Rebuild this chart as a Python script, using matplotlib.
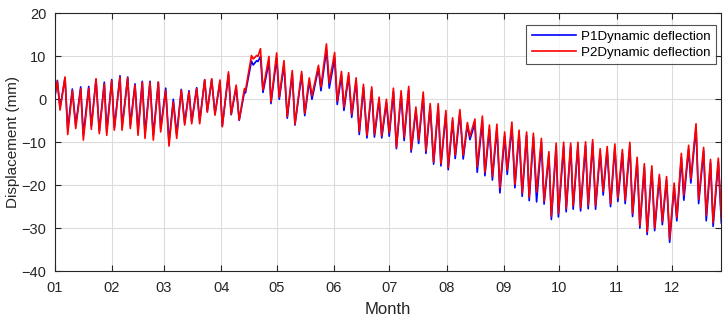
import pandas as pd
import matplotlib
matplotlib.use("Agg")
import matplotlib.pyplot as plt
import matplotlib.dates as mdates

# Turning points of the daily deflection record (days since 1 Jan)
days = [0.00, 1.41, 2.87, 5.57, 7.03, 9.52, 11.36, 14.06, 15.47, 18.39,
        19.79, 22.34, 24.12, 26.82, 28.12, 30.83, 32.23, 35.31, 36.40, 39.48,
        40.88, 43.43, 45.05, 47.37, 48.83, 51.54, 53.32, 56.03, 57.32, 60.03,
        61.81, 64.14, 65.98, 68.46, 70.30, 72.63, 74.09, 76.79, 78.42, 81.12,
        82.53, 84.91, 86.69, 89.39, 90.64, 93.99, 95.45, 98.16, 99.78, 102.64,
        103.18, 106.43, 107.40, 109.24, 109.94, 111.30, 112.65, 115.89, 116.97, 120.06,
        121.46, 124.01, 125.79, 128.49, 129.95, 133.58, 135.25, 137.69, 139.15, 142.66,
        144.01, 146.99, 148.50, 151.42, 152.83, 155.10, 156.45, 158.99, 160.67, 163.05,
        164.73, 167.00, 168.89, 171.49, 172.95, 175.49, 176.90, 179.44, 180.95, 183.22,
        184.85, 187.39, 189.01, 191.50, 192.80, 195.39, 196.85, 199.34, 200.80, 203.12,
        204.96, 207.45, 208.91, 211.61, 212.86, 215.24, 216.64, 219.19, 220.97, 223.24,
        224.59, 227.30, 228.54, 231.35, 232.71, 235.14, 236.76, 239.20, 240.82, 243.41,
        244.77, 247.31, 248.93, 251.20, 252.88, 255.26, 256.66, 258.94, 260.67, 263.26,
        264.72, 267.32, 268.67, 271.27, 272.46, 275.32, 276.67, 279.11, 280.46, 283.05,
        284.46, 287.16, 288.57, 291.00, 292.57, 295.06, 296.68, 298.85, 300.68, 303.01,
        304.63, 307.07, 308.58, 311.12, 312.58, 315.07, 316.53, 318.96, 320.48, 323.02,
        324.54, 327.08, 328.70, 330.97, 332.65, 335.08, 336.54, 338.97, 340.33, 342.92,
        344.11, 346.92, 348.33, 351.03, 352.44, 354.76, 356.17, 358.98, 360.61]

p2 = [0.5, 4.2, -2.5, 5.2, -8.2, 2.1, -6.8, 2.5, -9.5, 2.6,
      -7.0, 4.8, -8.0, 3.6, -8.4, 4.4, -7.2, 5.2, -7.2, 5.0,
      -6.8, 3.3, -8.4, 4.0, -9.1, 4.0, -9.5, 4.0, -7.6, 2.1,
      -10.9, -0.6, -9.1, 2.1, -6.0, 1.7, -5.7, 2.5, -5.7, 4.6,
      -3.0, 4.8, -3.7, 4.5, -6.4, 6.4, -3.5, 3.3, -4.8, 2.5,
      2.0, 10.2, 9.4, 10.2, 10.0, 11.8, 2.2, 10.0, -0.6, 10.8,
      0.5, 9.0, -4.0, 6.7, -5.8, 6.5, -3.3, 5.0, 0.8, 7.9,
      2.9, 12.9, 3.8, 10.9, -0.4, 6.5, -1.8, 6.2, -3.5, 5.0,
      -7.5, 3.5, -8.4, 2.9, -8.2, 0.5, -8.5, 0.0, -7.8, 2.6,
      -11.2, 2.0, -8.8, 3.0, -11.8, -1.8, -9.5, 1.7, -12.0, -1.0,
      -14.6, -1.0, -15.0, -2.6, -15.9, -4.3, -13.0, -2.4, -13.0, -5.4,
      -8.7, -4.6, -15.7, -3.9, -17.0, -6.0, -18.0, -5.8, -20.6, -7.6,
      -16.5, -5.3, -19.8, -7.2, -21.8, -7.6, -22.8, -7.9, -21.6, -9.1,
      -23.7, -12.2, -27.2, -10.2, -26.6, -10.0, -25.4, -10.2, -24.8, -10.0,
      -25.3, -9.9, -24.7, -9.4, -24.8, -11.5, -21.4, -11.0, -24.3, -10.4,
      -23.0, -11.7, -23.5, -10.0, -26.6, -13.5, -29.4, -15.0, -30.9, -15.5,
      -30.0, -17.5, -28.5, -18.0, -32.5, -19.5, -27.5, -12.6, -22.3, -10.7,
      -18.5, -5.7, -23.3, -11.2, -27.0, -14.0, -28.7, -13.7, -27.6]

p1 = [0.5, 4.4, -2.0, 5.0, -7.0, 2.4, -6.0, 2.9, -8.3, 3.0,
      -6.2, 4.6, -7.3, 4.0, -7.5, 4.6, -6.6, 5.5, -6.5, 5.2,
      -6.0, 3.6, -7.3, 4.2, -8.0, 4.2, -8.4, 4.0, -6.8, 2.6,
      -10.0, 0.0, -8.2, 2.3, -5.5, 2.0, -5.2, 2.7, -5.0, 4.5,
      -2.8, 4.6, -3.4, 4.0, -6.2, 5.8, -3.6, 2.8, -4.9, 1.8,
      1.5, 8.9, 8.0, 9.0, 8.8, 10.0, 1.6, 8.7, -1.0, 9.6,
      0.0, 8.0, -4.4, 6.0, -6.0, 5.8, -3.8, 4.2, 0.0, 7.2,
      2.0, 11.5, 2.6, 9.6, -1.2, 5.6, -2.6, 5.4, -4.2, 4.3,
      -8.2, 2.8, -9.0, 2.2, -8.8, -0.1, -9.0, -0.8, -8.6, 1.8,
      -11.5, 1.3, -9.6, 2.2, -12.3, -2.5, -10.3, 0.9, -12.6, -1.7,
      -15.1, -1.8, -15.5, -3.4, -16.4, -5.0, -13.8, -3.2, -13.9, -6.0,
      -9.4, -5.6, -17.0, -5.0, -17.8, -7.0, -18.8, -6.8, -21.8, -8.6,
      -17.5, -6.4, -20.6, -8.0, -22.6, -8.4, -23.6, -8.8, -23.9, -10.0,
      -24.4, -13.0, -28.0, -11.0, -27.4, -11.0, -26.2, -11.0, -25.6, -10.8,
      -26.0, -10.8, -25.5, -10.2, -25.6, -12.3, -22.3, -11.8, -25.0, -11.2,
      -23.8, -12.5, -24.3, -10.9, -27.3, -14.3, -30.0, -15.8, -31.5, -16.3,
      -30.6, -18.2, -29.2, -18.8, -33.3, -20.3, -28.3, -13.6, -23.5, -11.6,
      -19.5, -6.5, -24.3, -12.0, -28.3, -14.8, -29.6, -14.5, -28.8]

y_ticks = [-40, -30, -20, -10, 0, 10, 20]

start = pd.Timestamp("2021-01-01")
t = start + pd.to_timedelta(days, unit="D")

plt.rcParams["font.family"] = ["Liberation Sans", "DejaVu Sans"]
ink = "#262626"

fig = plt.figure(figsize=(7.23, 3.2), dpi=100)
ax = fig.add_axes([0.0757, 0.153, 0.922, 0.805])

ax.plot(t, p1, color="#0000ff", lw=1.2, label="P1Dynamic deflection")
ax.plot(t, p2, color="#ff0000", lw=1.2, label="P2Dynamic deflection")

ax.set_xlim(start, start + pd.Timedelta(days=360.61))
ax.set_ylim(-40, 20)
ax.set_yticks(y_ticks)
ax.xaxis.set_major_locator(mdates.MonthLocator())
ax.xaxis.set_major_formatter(mdates.DateFormatter("%m"))

ax.grid(True, color="#dcdcdc", lw=0.8)
ax.set_axisbelow(True)
ax.tick_params(direction="in", top=True, right=True, labelsize=10.5,
               colors=ink, length=4)
ax.tick_params(axis="x", pad=7)
ax.tick_params(axis="y", pad=6)
for s in ax.spines.values():
    s.set_color(ink)
    s.set_linewidth(0.8)

ax.set_xlabel("Month", fontsize=12, color=ink, labelpad=5)
ax.set_ylabel("Displacement (mm)", fontsize=11, color=ink, labelpad=1)

leg = ax.legend(loc="upper right", bbox_to_anchor=(0.992, 0.955),
                fontsize=9.6, frameon=True, fancybox=False, borderaxespad=0,
                handlelength=3.3, handletextpad=0.4, borderpad=0.4,
                labelspacing=0.3)
leg.get_frame().set_edgecolor(ink)
leg.get_frame().set_linewidth(0.8)

fig.savefig("out.png", dpi=100)
